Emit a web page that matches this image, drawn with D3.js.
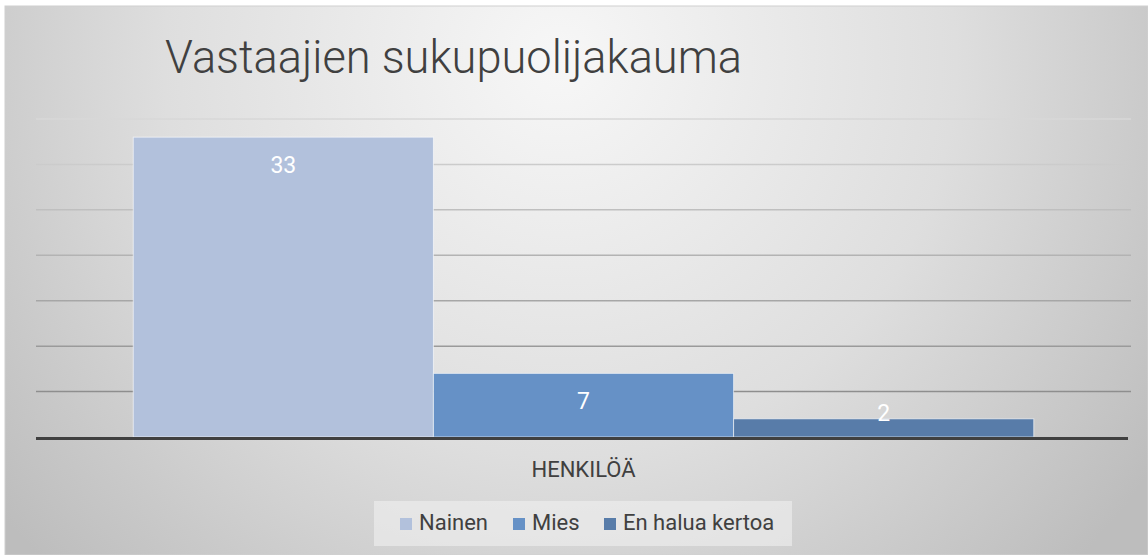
<!DOCTYPE html>
<html>
<head>
<meta charset="utf-8">
<script src="https://cdn.jsdelivr.net/npm/d3@7"></script>
<style>
  html, body { margin: 0; padding: 0; background: #fff; }
  svg { display: block; }
</style>
</head>
<body>
<svg id="chart" width="1148" height="555"></svg>
<script>
// data
const category = 'HENKILÖÄ'
const series = ['Nainen', 'Mies', 'En halua kertoa']
const values = [33, 7, 2]
const colors = ['#b2c1dc', '#6691c6', '#587ca9']
const yTicks = [0, 5, 10, 15, 20, 25, 30, 35]

const svg = d3.select('#chart')
const W = 1148, H = 555
const font = "Roboto, 'Open Sans', sans-serif"

// background gradient (light centre near title, grey edges)
const defs = svg.append('defs')
const bg = defs.append('radialGradient')
  .attr('id', 'bg')
  .attr('gradientUnits', 'userSpaceOnUse')
  .attr('cx', 560).attr('cy', 60).attr('r', 720)
bg.append('stop').attr('offset', '0%').attr('stop-color', '#f7f7f7')
bg.append('stop').attr('offset', '55%').attr('stop-color', '#dedede')
bg.append('stop').attr('offset', '100%').attr('stop-color', '#bdbdbd')

const grid = defs.append('linearGradient')
  .attr('id', 'gridGrad')
  .attr('gradientUnits', 'userSpaceOnUse')
  .attr('x1', 0).attr('y1', 110).attr('x2', 0).attr('y2', 400)
grid.append('stop').attr('offset', '0%').attr('stop-color', '#dadada')
grid.append('stop').attr('offset', '100%').attr('stop-color', '#8c8c8c')

svg.append('rect')
  .attr('x', 5).attr('y', 6)
  .attr('width', W - 5).attr('height', H - 6)
  .attr('fill', 'url(#bg)')
  .attr('stroke', '#d0d0d0')
  .attr('stroke-width', 1)

// title
svg.append('text')
  .attr('x', 165).attr('y', 73)
  .attr('font-family', font)
  .attr('font-size', 46)
  .attr('font-weight', 300)
  .attr('textLength', 577)
  .attr('lengthAdjust', 'spacingAndGlyphs')
  .attr('fill', '#404040')
  .text('Vastaajien sukupuolijakauma')

// scales
const x0 = d3.scaleBand()
  .domain([category])
  .range([36, 1131])
  .paddingInner(0)
  .paddingOuter(0.108)

const x1 = d3.scaleBand()
  .domain(series)
  .range([0, x0.bandwidth()])
  .padding(0)

const y = d3.scaleLinear().domain([0, 35]).range([437, 119])

// gridlines
svg.append('g')
  .selectAll('line')
  .data(yTicks.filter(t => t > 0))
  .enter()
  .append('line')
  .attr('x1', 36).attr('x2', 1131)
  .attr('y1', d => y(d)).attr('y2', d => y(d))
  .attr('stroke', 'url(#gridGrad)')
  .attr('stroke-width', 1.5)

// bars
const bars = svg.append('g')
  .attr('transform', `translate(${x0(category)},0)`)

bars.selectAll('rect')
  .data(series)
  .enter()
  .append('rect')
  .attr('x', d => x1(d))
  .attr('width', x1.bandwidth())
  .attr('y', (d, i) => y(values[i]))
  .attr('height', (d, i) => y(0) - y(values[i]))
  .attr('fill', (d, i) => colors[i])
  .attr('stroke', 'rgba(255,255,255,0.6)')
  .attr('stroke-width', 1)

// value labels
bars.selectAll('text')
  .data(series)
  .enter()
  .append('text')
  .attr('x', d => x1(d) + x1.bandwidth() / 2)
  .attr('y', (d, i) => Math.min(y(values[i]) + 36, y(0) - 16))
  .attr('text-anchor', 'middle')
  .attr('font-family', font)
  .attr('font-size', 23)
  .attr('fill', '#ffffff')
  .text((d, i) => values[i])

// axis baseline
svg.append('line')
  .attr('x1', 36).attr('x2', 1128)
  .attr('y1', y(0) + 1.5).attr('y2', y(0) + 1.5)
  .attr('stroke', '#404040')
  .attr('stroke-width', 3)

// category label
svg.append('text')
  .attr('x', x0(category) + x0.bandwidth() / 2)
  .attr('y', 477)
  .attr('text-anchor', 'middle')
  .attr('font-family', font)
  .attr('font-size', 22)
  .attr('fill', '#404040')
  .text(category)

// legend
svg.append('rect')
  .attr('x', 374).attr('y', 501)
  .attr('width', 418).attr('height', 45)
  .attr('fill', 'rgba(240,240,240,0.6)')

const legendX = [400, 513, 604]
const legend = svg.append('g')
  .selectAll('g')
  .data(series)
  .enter()
  .append('g')
  .attr('transform', (d, i) => `translate(${legendX[i]},518)`)

legend.append('rect')
  .attr('width', 12).attr('height', 12)
  .attr('fill', (d, i) => colors[i])

legend.append('text')
  .attr('x', 19).attr('y', 12)
  .attr('font-family', font)
  .attr('font-size', 22)
  .attr('fill', '#404040')
  .text(d => d)
</script>
</body>
</html>
